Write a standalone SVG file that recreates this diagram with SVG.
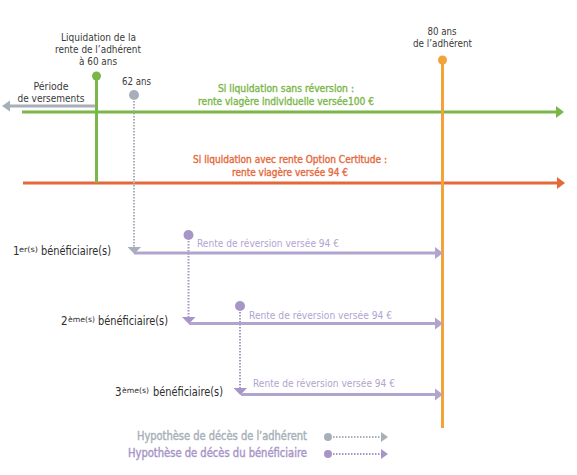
<svg xmlns="http://www.w3.org/2000/svg" width="577" height="475" viewBox="0 0 577 475">
<style>
text{font-family:"DejaVu Sans Condensed","Liberation Sans",sans-serif;}
.t{font-size:10px;fill:#3a3a3a;}
.g{font-size:11px;fill:#7ab648;stroke:#7ab648;stroke-width:0.35;}
.r{font-size:11px;fill:#e4683a;stroke:#e4683a;stroke-width:0.35;}
.p{font-size:10px;fill:#b1a4cf;}
.lg{font-size:12px;fill:#a7b0b8;stroke:#a7b0b8;stroke-width:0.4;}
.lp{font-size:12px;fill:#a895c8;stroke:#a895c8;stroke-width:0.4;}
.b{font-size:11.5px;fill:#2e2e2e;}
.sup{font-size:7.5px;fill:#2e2e2e;}
.gl{stroke:#7ab648;stroke-width:3;fill:none;}
.rl{stroke:#e4683a;stroke-width:3;fill:none;}
.ol{stroke:#f2a33a;stroke-width:3;fill:none;}
.grl{stroke:#a7b0b8;stroke-width:3;fill:none;}
.pl{stroke:#b1a4cf;stroke-width:3;fill:none;}
.gd{stroke:#a7b0b8;stroke-width:2;stroke-dasharray:1.5 1.5;fill:none;}
.pd{stroke:#a895c8;stroke-width:2;stroke-dasharray:1.5 1.5;fill:none;}
</style>
<rect width="577" height="475" fill="#ffffff"/>
<g id="connectors">
  <line class="gl" x1="22" y1="112" x2="558" y2="112"/>
  <polygon points="556,106 564,112 556,118" fill="#7ab648"/>
  <line class="rl" x1="23" y1="183" x2="559" y2="183"/>
  <polygon points="557,177 565,183 557,189" fill="#e4683a"/>
  <line class="grl" x1="8" y1="106" x2="96" y2="106"/>
  <polygon points="10,100.5 2,106 10,111.5" fill="#a7b0b8"/>
  <line class="gl" x1="96.5" y1="76" x2="96.5" y2="183"/>
  <circle cx="96.5" cy="76" r="4.5" fill="#7ab648"/>
  <line class="ol" x1="442.5" y1="60" x2="442.5" y2="428"/>
  <circle cx="442.5" cy="60" r="4.5" fill="#f2a33a"/>
  <circle cx="134" cy="95" r="5" fill="#a7b0b8"/>
  <line class="gd" x1="134" y1="101" x2="134" y2="247"/>
  <polygon points="127.5,247 141,247 134.3,254" fill="#a7b0b8"/>
  <line class="pl" x1="134" y1="253" x2="437" y2="253"/>
  <polygon points="435,247 443,253 435,259" fill="#b1a4cf"/>
  <circle cx="188.5" cy="235" r="5" fill="#a895c8"/>
  <line class="pd" x1="188.5" y1="241" x2="188.5" y2="317"/>
  <polygon points="182,317 195.5,317 188.8,324" fill="#a895c8"/>
  <line class="pl" x1="189" y1="323.5" x2="437" y2="323.5"/>
  <polygon points="435,317.5 443,323.5 435,329.5" fill="#b1a4cf"/>
  <circle cx="240" cy="306" r="5" fill="#a895c8"/>
  <line class="pd" x1="240" y1="312" x2="240" y2="388"/>
  <polygon points="233.5,388 247,388 240.3,395" fill="#a895c8"/>
  <line class="pl" x1="241" y1="394.5" x2="437" y2="394.5"/>
  <polygon points="435,388.5 443,394.5 435,400.5" fill="#b1a4cf"/>
  <circle cx="328" cy="437" r="4" fill="#a7b0b8"/>
  <line class="gd" x1="333" y1="437" x2="381" y2="437"/>
  <polygon points="381,432 388,437 381,442" fill="#a7b0b8"/>
  <circle cx="328" cy="454" r="4" fill="#a895c8"/>
  <line class="pd" x1="333" y1="454" x2="381" y2="454"/>
  <polygon points="381,449 388,454 381,459" fill="#a895c8"/>
</g>
<g id="liquidation">
  <text class="t" text-anchor="middle" x="98.5" y="41" textLength="75" lengthAdjust="spacingAndGlyphs">Liquidation de la</text>
  <text class="t" text-anchor="middle" x="98" y="53" textLength="86" lengthAdjust="spacingAndGlyphs">rente de l’adhérent</text>
  <text class="t" text-anchor="middle" x="98" y="65" textLength="38" lengthAdjust="spacingAndGlyphs">à 60 ans</text>
</g>
<g id="periode">
  <text class="t" text-anchor="middle" x="51" y="90" textLength="35" lengthAdjust="spacingAndGlyphs">Période</text>
  <text class="t" text-anchor="middle" x="51" y="102" textLength="67" lengthAdjust="spacingAndGlyphs">de versements</text>
</g>
<g id="age62">
  <text class="t" text-anchor="middle" x="136.5" y="85" textLength="29" lengthAdjust="spacingAndGlyphs">62 ans</text>
</g>
<g id="age80">
  <text class="t" text-anchor="middle" x="442" y="35" textLength="29" lengthAdjust="spacingAndGlyphs">80 ans</text>
  <text class="t" text-anchor="middle" x="442.5" y="47" textLength="59" lengthAdjust="spacingAndGlyphs">de l’adhérent</text>
</g>
<g id="sans-reversion">
  <text class="g" text-anchor="middle" x="286" y="92" textLength="136" lengthAdjust="spacingAndGlyphs">Si liquidation sans réversion :</text>
  <text class="g" text-anchor="middle" x="286" y="105" textLength="176" lengthAdjust="spacingAndGlyphs">rente viagère individuelle versée100 €</text>
</g>
<g id="avec-rente">
  <text class="r" text-anchor="middle" x="290" y="163" textLength="194" lengthAdjust="spacingAndGlyphs">Si liquidation avec rente Option Certitude :</text>
  <text class="r" text-anchor="middle" x="290" y="176" textLength="116" lengthAdjust="spacingAndGlyphs">rente viagère versée 94 €</text>
</g>
<g id="beneficiaire1">
  <text class="b" x="13" y="255">1</text>
  <text class="sup" x="19" y="252" textLength="19" lengthAdjust="spacingAndGlyphs">er(s)</text>
  <text class="b" x="41" y="255" textLength="70" lengthAdjust="spacingAndGlyphs">bénéficiaire(s)</text>
  <text class="p" x="197" y="247" textLength="142" lengthAdjust="spacingAndGlyphs">Rente de réversion versée 94 €</text>
</g>
<g id="beneficiaire2">
  <text class="b" x="61" y="325">2</text>
  <text class="sup" x="68" y="322" textLength="27" lengthAdjust="spacingAndGlyphs">ème(s)</text>
  <text class="b" x="98" y="325" textLength="70" lengthAdjust="spacingAndGlyphs">bénéficiaire(s)</text>
  <text class="p" x="249" y="319" textLength="143" lengthAdjust="spacingAndGlyphs">Rente de réversion versée 94 €</text>
</g>
<g id="beneficiaire3">
  <text class="b" x="115" y="396">3</text>
  <text class="sup" x="122" y="393" textLength="27" lengthAdjust="spacingAndGlyphs">ème(s)</text>
  <text class="b" x="153" y="396" textLength="70" lengthAdjust="spacingAndGlyphs">bénéficiaire(s)</text>
  <text class="p" x="253" y="387" textLength="142" lengthAdjust="spacingAndGlyphs">Rente de réversion versée 94 €</text>
</g>
<g id="legend">
  <text class="lg" x="137" y="440" textLength="170" lengthAdjust="spacingAndGlyphs">Hypothèse de décès de l’adhérent</text>
  <text class="lp" x="128" y="457" textLength="179" lengthAdjust="spacingAndGlyphs">Hypothèse de décès du bénéficiaire</text>
</g>
</svg>
